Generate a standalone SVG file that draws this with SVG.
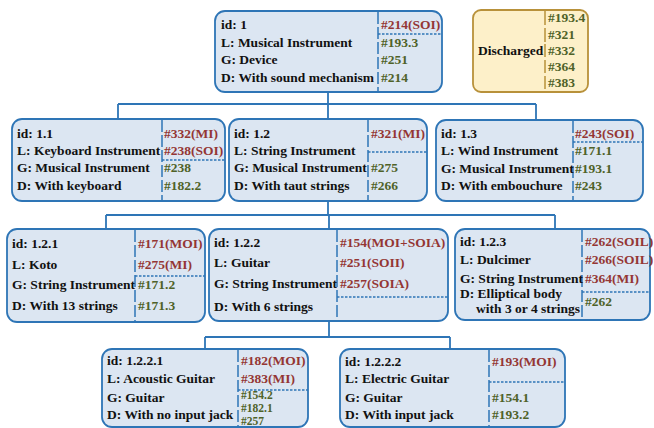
<svg xmlns="http://www.w3.org/2000/svg" width="654" height="428" viewBox="0 0 654 428">
<style>
.box{fill:#dce6f2;stroke:#2e75b6;stroke-width:1.8}
.dis{fill:#fdf0c9;stroke:#b8913a;stroke-width:1.8}
.div{stroke:#2e75b6;stroke-width:1.5;stroke-dasharray:12 3;fill:none}
.hd{stroke:#2e75b6;stroke-width:1.3;stroke-dasharray:2.5 1.5;fill:none}
.sd{stroke:#b8913a;stroke-width:1.5;fill:none}
.con{stroke:#2e75b6;stroke-width:1.8;fill:none}
text{font-family:"Liberation Serif","Times New Roman",serif;font-weight:bold;font-size:13.5px}
.k{fill:#111}
.r{fill:#943634}
.g{fill:#4f6228}
.sm{font-size:11.5px}
</style>
<g id="connectors">
<path class="con" d="M328,92V104M118,104H536M118,104V119M328,104V119M536,104V120"/>
<path class="con" d="M328,201V215M106,215H555M106,215V229M329,215V229M555,215V229"/>
<path class="con" d="M329,321V337M205,337H450M205,337V349M450,337V349"/>
</g>
<g id="n1">
<rect class="box" x="215" y="11" width="227" height="81" rx="10"/>
<line class="div" x1="378" y1="12" x2="378" y2="91"/>
<line class="hd" x1="378" y1="34" x2="442" y2="34"/>
<text class="k" x="221" y="29">id: 1</text>
<text class="k" x="221" y="47">L: Musical Instrument</text>
<text class="k" x="221" y="64">G: Device</text>
<text class="k" x="221" y="82">D: With sound mechanism</text>
<text class="r" x="381" y="29">#214(SOI)</text>
<text class="g" x="381" y="47">#193.3</text>
<text class="g" x="381" y="64">#251</text>
<text class="g" x="381" y="82">#214</text>
</g>
<g id="discharged">
<rect class="dis" x="473" y="10" width="115" height="82" rx="8"/>
<text class="k" x="478" y="55">Discharged</text>
<path class="sd" d="M545,11V25M545,28V42M545,44V57M545,60V73M545,76V89"/>
<text class="g" x="548" y="22">#193.4</text>
<text class="g" x="548" y="39">#321</text>
<text class="g" x="548" y="55">#332</text>
<text class="g" x="548" y="71">#364</text>
<text class="g" x="548" y="87">#383</text>
</g>
<g id="n1_1">
<rect class="box" x="12" y="119" width="213" height="82" rx="10"/>
<line class="div" x1="162" y1="120" x2="162" y2="200"/>
<line class="hd" x1="162" y1="160" x2="225" y2="160"/>
<text class="k" x="17" y="138">id: 1.1</text>
<text class="k" x="17" y="155">L: Keyboard Instrument</text>
<text class="k" x="17" y="172">G: Musical Instrument</text>
<text class="k" x="17" y="190">D: With keyboard</text>
<text class="r" x="164" y="138">#332(MI)</text>
<text class="r" x="164" y="155">#238(SOI)</text>
<text class="g" x="164" y="172">#238</text>
<text class="g" x="164" y="190">#182.2</text>
</g>
<g id="n1_2">
<rect class="box" x="229" y="119" width="198" height="82" rx="10"/>
<line class="div" x1="368" y1="120" x2="368" y2="200"/>
<line class="hd" x1="368" y1="152" x2="427" y2="152"/>
<text class="k" x="234" y="138">id: 1.2</text>
<text class="k" x="234" y="155">L: String Instrument</text>
<text class="k" x="234" y="172">G: Musical Instrument</text>
<text class="k" x="234" y="190">D: With taut strings</text>
<text class="r" x="371" y="138">#321(MI)</text>
<text class="g" x="371" y="172">#275</text>
<text class="g" x="371" y="190">#266</text>
</g>
<g id="n1_3">
<rect class="box" x="436" y="120" width="207" height="81" rx="10"/>
<line class="div" x1="573" y1="121" x2="573" y2="200"/>
<line class="hd" x1="573" y1="142" x2="643" y2="142"/>
<text class="k" x="441" y="138">id: 1.3</text>
<text class="k" x="441" y="155">L: Wind Instrument</text>
<text class="k" x="441" y="173">G: Musical Instrument</text>
<text class="k" x="441" y="190">D: With embouchure</text>
<text class="r" x="575" y="138">#243(SOI)</text>
<text class="g" x="575" y="155">#171.1</text>
<text class="g" x="575" y="173">#193.1</text>
<text class="g" x="575" y="190">#243</text>
</g>
<g id="n1_2_1">
<rect class="box" x="7" y="229" width="198" height="93" rx="10"/>
<line class="div" x1="135" y1="230" x2="135" y2="321"/>
<line class="hd" x1="135" y1="276" x2="205" y2="276"/>
<text class="k" x="12" y="248">id: 1.2.1</text>
<text class="k" x="12" y="269">L: Koto</text>
<text class="k" x="12" y="289">G: String Instrument</text>
<text class="k" x="12" y="310">D: With 13 strings</text>
<text class="r" x="138" y="248">#171(MOI)</text>
<text class="r" x="138" y="269">#275(MI)</text>
<text class="g" x="138" y="289">#171.2</text>
<text class="g" x="138" y="310">#171.3</text>
</g>
<g id="n1_2_2">
<rect class="box" x="209" y="229" width="239" height="92" rx="10"/>
<line class="div" x1="337" y1="230" x2="337" y2="320"/>
<line class="hd" x1="337" y1="297" x2="448" y2="297"/>
<text class="k" x="214" y="247">id: 1.2.2</text>
<text class="k" x="214" y="267">L: Guitar</text>
<text class="k" x="214" y="288">G: String Instrument</text>
<text class="k" x="214" y="311">D: With 6 strings</text>
<text class="r" x="340" y="247">#154(MOI+SOIA)</text>
<text class="r" x="340" y="267">#251(SOII)</text>
<text class="r" x="340" y="288">#257(SOIA)</text>
</g>
<g id="n1_2_3">
<rect class="box" x="455" y="229" width="195" height="91" rx="10"/>
<line class="div" x1="582" y1="230" x2="582" y2="319"/>
<line class="hd" x1="582" y1="292" x2="650" y2="292"/>
<text class="k" x="460" y="246">id: 1.2.3</text>
<text class="k" x="460" y="264">L: Dulcimer</text>
<text class="k" x="460" y="283">G: String Instrument</text>
<text class="k" x="460" y="298">D: Elliptical body</text>
<text class="k" x="476" y="313">with 3 or 4 strings</text>
<text class="r" x="585" y="246">#262(SOIL)</text>
<text class="r" x="585" y="264">#266(SOIL)</text>
<text class="r" x="585" y="283">#364(MI)</text>
<text class="g" x="585" y="306">#262</text>
</g>
<g id="n1_2_2_1">
<rect class="box" x="102" y="349" width="206" height="78" rx="10"/>
<line class="div" x1="238" y1="350" x2="238" y2="426"/>
<line class="hd" x1="238" y1="390" x2="308" y2="390"/>
<text class="k" x="107" y="365">id: 1.2.2.1</text>
<text class="k" x="107" y="383">L: Acoustic Guitar</text>
<text class="k" x="107" y="402">G: Guitar</text>
<text class="k" x="107" y="419">D: With no input jack</text>
<text class="r" x="241" y="365">#182(MOI)</text>
<text class="r" x="241" y="383">#383(MI)</text>
<text class="g sm" x="241" y="399">#154.2</text>
<text class="g sm" x="241" y="412">#182.1</text>
<text class="g sm" x="241" y="425">#257</text>
</g>
<g id="n1_2_2_2">
<rect class="box" x="340" y="349" width="225" height="78" rx="10"/>
<line class="div" x1="489" y1="350" x2="489" y2="426"/>
<line class="hd" x1="489" y1="382" x2="565" y2="382"/>
<text class="k" x="345" y="366">id: 1.2.2.2</text>
<text class="k" x="345" y="383">L: Electric Guitar</text>
<text class="k" x="345" y="402">G: Guitar</text>
<text class="k" x="345" y="419">D: With input jack</text>
<text class="r" x="492" y="366">#193(MOI)</text>
<text class="g" x="492" y="402">#154.1</text>
<text class="g" x="492" y="419">#193.2</text>
</g>
</svg>
